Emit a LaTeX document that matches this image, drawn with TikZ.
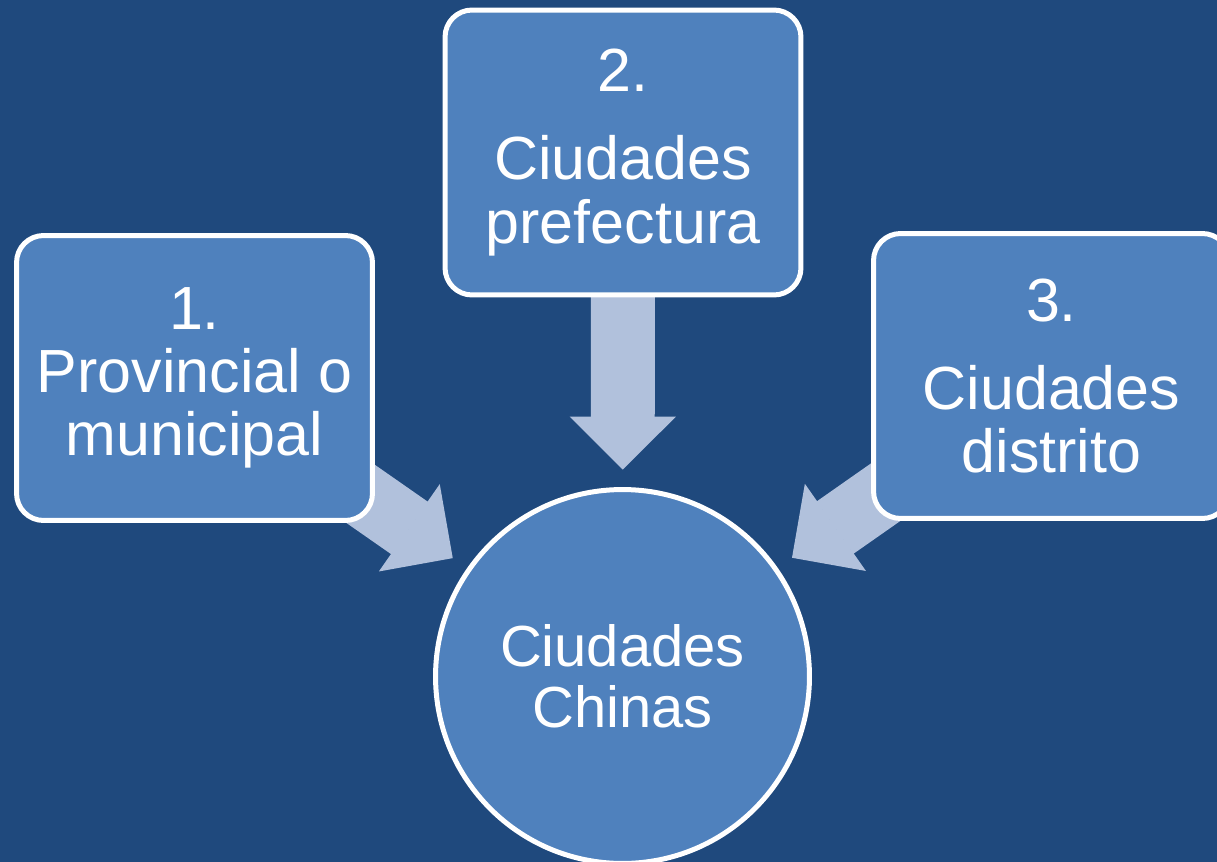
\documentclass[tikz,border=0pt]{standalone}
\usepackage{fontspec}
\setmainfont{Liberation Sans}
\usetikzlibrary{arrows.meta}
\definecolor{slidebg}{HTML}{1F497D}
\definecolor{boxblue}{HTML}{4F81BD}
\definecolor{arrowblue}{HTML}{B1C1DC}
\pgfdeclarelayer{back}
\pgfsetlayers{back,main}
\tikzset{
  levelbox/.style={draw=white, line width=0.1cm, fill=boxblue, rounded corners=0.54cm,
    minimum width=7.12cm, minimum height=5.7cm, inner sep=0pt, text=white, align=center,
    font=\fontsize{34.7}{36}\selectfont},
  citycircle/.style={circle, draw=white, line width=0.1cm, fill=boxblue, minimum size=7.48cm,
    inner sep=0pt, text=white, align=center, font=\fontsize{33}{34.7}\selectfont},
  blockarrow/.style={draw=arrowblue, line width=1.28cm,
    -{Triangle[length=1.06cm, width=2.12cm, line width=1.5pt]}, shorten >=0.35cm}
}

\begin{document}
\begin{tikzpicture}[x=0.02cm, y=-0.02cm]
\useasboundingbox (0,0) rectangle (1217,862);
% three kinds of city
\node (prov) [levelbox] at (194.5,378) {1.\\Provincial o\\municipal};
\node (pref) [levelbox] at (623,152.5) {2.\\[0.5cm]Ciudades\\prefectura};
\node (dist) [levelbox] at (1051.5,376) {3.\\[0.5cm]Ciudades\\distrito};
\node (china) [citycircle] at (622.5,676.5) {Ciudades\\Chinas};
\begin{pgfonlayer}{back}
\fill[slidebg] (0,0) rectangle (1217,862);
\draw[blockarrow] (prov.center) -- (china);
\draw[blockarrow] (pref.center) -- (china);
\draw[blockarrow] (dist.center) -- (china);
\end{pgfonlayer}
\end{tikzpicture}
\end{document}
